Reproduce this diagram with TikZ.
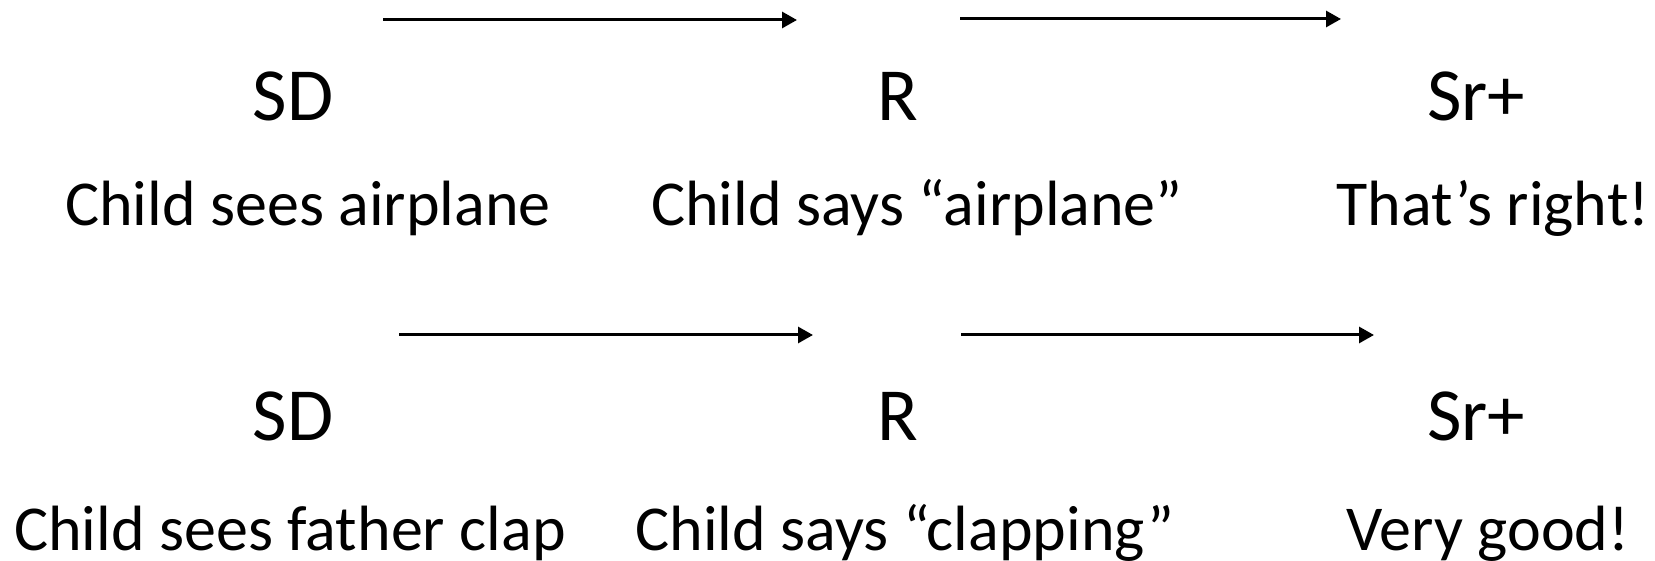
\documentclass[tikz,border=0pt]{standalone}
\usepackage{fontspec}
\setmainfont{Carlito}
\usetikzlibrary{arrows.meta}
\tikzset{
  lbl/.style={anchor=base, inner sep=0pt, font=\fontsize{75}{80}\selectfont},
  txt/.style={anchor=base, inner sep=0pt, font=\fontsize{64}{70}\selectfont},
  conn/.style={line width=3pt, -{Triangle[length=15pt,width=16pt]}}
}
\begin{document}
\begin{tikzpicture}[x=1pt,y=1pt]
\useasboundingbox (0,0) rectangle (1655,561);
% row 1
\node[lbl] (sd1) at (293,440) {SD};
\node[lbl] (r1) at (898,440) {R};
\node[lbl] (sr1) at (1476,440) {Sr+};
\node[txt] (t11) at (308,335) {Child sees airplane};
\node[txt] (t12) at (917,335) {Child says “airplane”};
\node[txt] (t13) at (1493,335) {That’s right!};
\coordinate (a1s) at (383,541);
\coordinate (a1e) at (797,541);
\coordinate (a2s) at (960,542);
\coordinate (a2e) at (1341,542);
\draw[conn] (a1s) -- (a1e);
\draw[conn] (a2s) -- (a2e);
% row 2
\node[lbl] (sd2) at (293,120) {SD};
\node[lbl] (r2) at (898,120) {R};
\node[lbl] (sr2) at (1476,120) {Sr+};
\node[txt] (t21) at (290,10) {Child sees father clap};
\node[txt] (t22) at (905,10) {Child says “clapping”};
\node[txt] (t23) at (1488,10) {Very good!};
\coordinate (b1s) at (399,226);
\coordinate (b1e) at (813,226);
\coordinate (b2s) at (961,226);
\coordinate (b2e) at (1374,226);
\draw[conn] (b1s) -- (b1e);
\draw[conn] (b2s) -- (b2e);
\end{tikzpicture}
\end{document}
